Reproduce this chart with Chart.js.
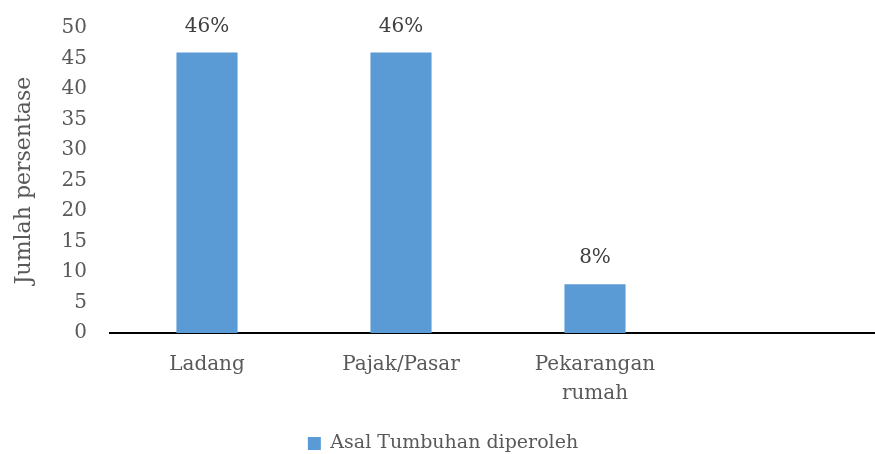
<!DOCTYPE html>
<html>
<head>
<meta charset="utf-8">
<script src="https://cdn.jsdelivr.net/npm/chart.js@4/dist/chart.umd.min.js"></script>
<style>
  html, body { margin: 0; padding: 0; background: #fff; overflow: hidden; }
  #wrap { width: 890px; height: 454px; position: relative; }
</style>
</head>
<body>
<div id="wrap"><canvas id="chart"></canvas></div>
<script>
// chart data
const categories = ['Ladang', 'Pajak/Pasar', ['Pekarangan', 'rumah'], ''];
const seriesName = 'Asal Tumbuhan diperoleh';
const values = [46, 46, 8, null];
const valueLabels = ['46%', '46%', '8%', ''];
const yTicks = [0, 5, 10, 15, 20, 25, 30, 35, 40, 45, 50];

const FONT = "'DejaVu Serif', serif";
const TEXT = '#595959';

// draws the percentage labels over each bar
const barLabels = {
  id: 'barLabels',
  afterDatasetsDraw(chart) {
    const ctx = chart.ctx;
    const meta = chart.getDatasetMeta(0);
    ctx.save();
    ctx.font = '20px ' + FONT;
    ctx.fillStyle = '#404040';
    ctx.textAlign = 'center';
    ctx.textBaseline = 'middle';
    meta.data.forEach((bar, i) => {
      if (values[i] == null) return;
      ctx.fillText(valueLabels[i], bar.x, bar.y - 26);
    });
    ctx.restore();
  }
};

new Chart(document.getElementById('chart'), {
  type: 'bar',
  data: {
    labels: categories,
    datasets: [{
      label: seriesName,
      data: values,
      backgroundColor: '#5B9BD5',
      borderWidth: 0,
      barPercentage: 1,
      categoryPercentage: 0.315
    }]
  },
  options: {
    responsive: true,
    maintainAspectRatio: false,
    animation: false,
    layout: { padding: { top: 28, right: 4, left: 0, bottom: -9 } },
    plugins: {
      legend: {
        position: 'bottom',
        labels: {
          font: { family: FONT, size: 19 },
          color: TEXT,
          boxWidth: 13,
          boxHeight: 13,
          padding: 9
        }
      },
      tooltip: { enabled: false }
    },
    scales: {
      x: {
        grid: { display: false, drawTicks: false },
        border: { display: true, color: '#000', width: 2 },
        ticks: {
          font: { family: FONT, size: 20, lineHeight: 1.45 },
          color: TEXT,
          padding: 17,
          maxRotation: 0,
          autoSkip: false
        }
      },
      y: {
        min: 0,
        max: 50,
        afterBuildTicks: (scale) => { scale.ticks = yTicks.map(v => ({ value: v })); },
        afterFit: (scale) => {
          scale.width = 110;
          scale.paddingTop = 0;
          scale.paddingBottom = 0;
        },
        grid: { display: false, drawTicks: false },
        border: { display: false },
        ticks: {
          font: { family: FONT, size: 20 },
          color: TEXT,
          padding: 23
        },
        title: {
          display: true,
          text: 'Jumlah persentase',
          font: { family: FONT, size: 22 },
          color: TEXT,
          padding: { top: 11, bottom: 26 }
        }
      }
    }
  },
  plugins: [barLabels]
});
</script>
</body>
</html>
